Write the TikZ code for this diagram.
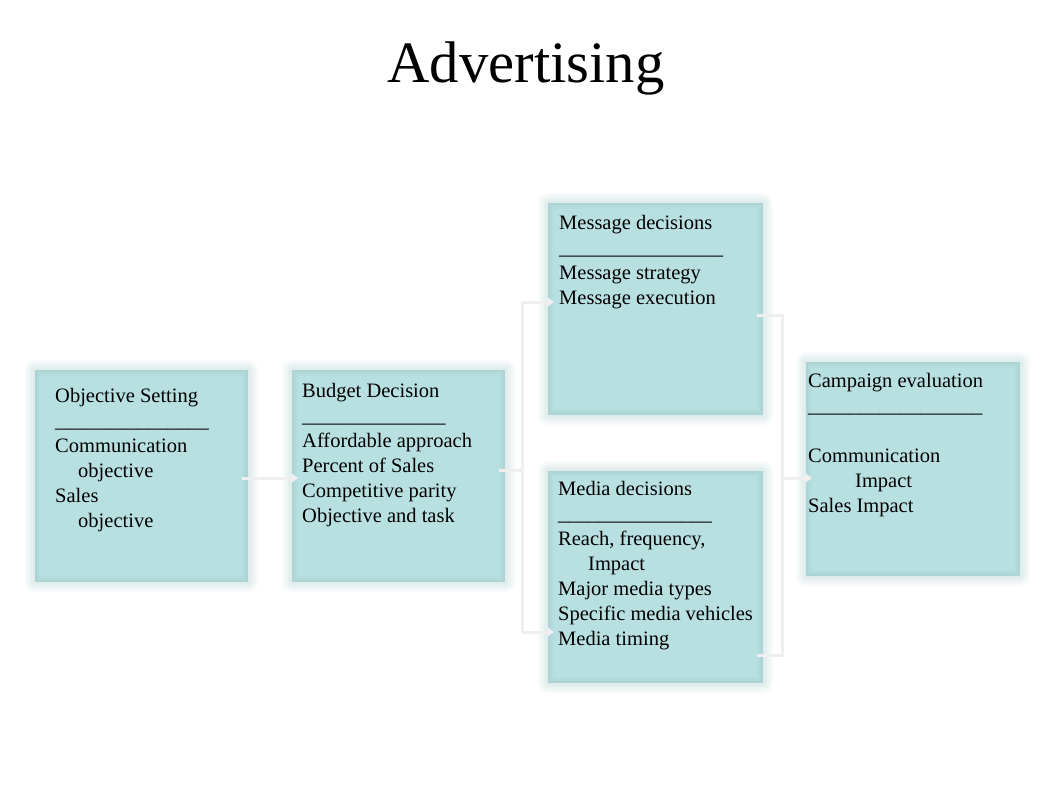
\documentclass[tikz,border=0pt]{standalone}
\usepackage{fontspec}
\setmainfont{Liberation Serif}
\usetikzlibrary{arrows.meta}
\definecolor{boxfill}{HTML}{B9E0E1}
\definecolor{boxedge}{HTML}{A3C8CA}
\definecolor{conn}{HTML}{EFEFEF}
\tikzset{
  panel/.style={fill=boxfill, draw=none, inner sep=0pt, anchor=north west},
  paneltext/.style={anchor=north west, inner sep=0pt, align=left,
    font=\fontsize{20.5pt}{25pt}\selectfont},
  link/.style={draw=conn, line width=3pt, -{Triangle[length=7pt,width=10pt]}},
  plain/.style={draw=conn, line width=3pt}
}
\newcommand{\glowbox}[5]{%
  % #1 name, #2 x, #3 y, #4 w, #5 h
  \foreach \g in {10,8,6,4,2}{
    \fill[boxedge, opacity=0.07, rounded corners=\g pt]
      (#2-\g,#3+\g) rectangle (#2+#4+\g,#3-#5-\g);
  }
  \fill[boxedge!55!boxfill] (#2,#3) rectangle (#2+#4,#3-#5);
  \fill[boxedge!30!boxfill] (#2+2,#3-2) rectangle (#2+#4-2,#3-#5+2);
  \fill[boxedge!12!boxfill] (#2+4,#3-4) rectangle (#2+#4-4,#3-#5+4);
  \node[panel, minimum width=#4pt-12pt, minimum height=#5pt-12pt] (#1) at (#2+6,#3-6) {};
}
\begin{document}
\begin{tikzpicture}[x=1pt,y=1pt]
\useasboundingbox (0,0) rectangle (1062,-797);
\fill[white] (0,0) rectangle (1062,-797);

% title
\node[anchor=base, inner sep=0pt, font=\fontsize{58.7pt}{60pt}\selectfont] (title) at (526,-83) {Advertising};

% boxes
\glowbox{obj}{35}{-370}{213}{212}
\glowbox{bud}{292}{-370}{213}{212}
\glowbox{msg}{548}{-203}{215}{212}
\glowbox{med}{548}{-471}{215}{212}
\glowbox{cam}{806}{-362}{214}{214}

% connectors (very faint)
\coordinate (split) at (522,-470);
\coordinate (splitT) at (522,-302);
\coordinate (splitB) at (522,-632);
\coordinate (joinT) at (782,-315);
\coordinate (joinB) at (782,-655);
\coordinate (join) at (782,-478);
\begin{scope}[on background layer/.style={}]
\draw[link] (obj.east |- 0,-478) -- (bud.west |- 0,-478);
\draw[plain] (bud.east |- split) -- (split);
\draw[plain] (splitT) -- (splitB);
\draw[link] (splitT) -- (msg.west |- splitT);
\draw[link] (splitB) -- (med.west |- splitB);
\draw[plain] (msg.east |- joinT) -- (joinT) -- (joinB) -- (med.east |- joinB);
\draw[link] (join) -- (cam.west |- join);
\end{scope}

% texts
\node[paneltext] (objt) at (55,-384.5) {\strut Objective Setting\\
\_\_\_\_\_\_\_\_\_\_\_\_\_\_\_\\
Communication\\
\hspace*{23pt}objective\\
Sales\\
\hspace*{23pt}objective};

\node[paneltext] (budt) at (302,-379.5) {\strut Budget Decision\\
\_\_\_\_\_\_\_\_\_\_\_\_\_\_\\
Affordable approach\\
Percent of Sales\\
Competitive parity\\
Objective and task};

\node[paneltext] (msgt) at (559,-211.5) {\strut Message decisions\\
\_\_\_\_\_\_\_\_\_\_\_\_\_\_\_\_\\
Message strategy\\
Message execution};

\node[paneltext] (medt) at (558,-477.5) {\strut Media decisions\\
\_\_\_\_\_\_\_\_\_\_\_\_\_\_\_\\
Reach, frequency,\\
\hspace*{30pt}Impact\\
Major media types\\
Specific media vehicles\\
Media timing};

\node[paneltext] (camt) at (808,-369.5) {\strut Campaign evaluation\\
\_\_\_\_\_\_\_\_\_\_\_\_\_\_\_\_\_\\
\strut\\
Communication\\
\hspace*{47pt}Impact\\
Sales Impact};
\end{tikzpicture}
\end{document}
